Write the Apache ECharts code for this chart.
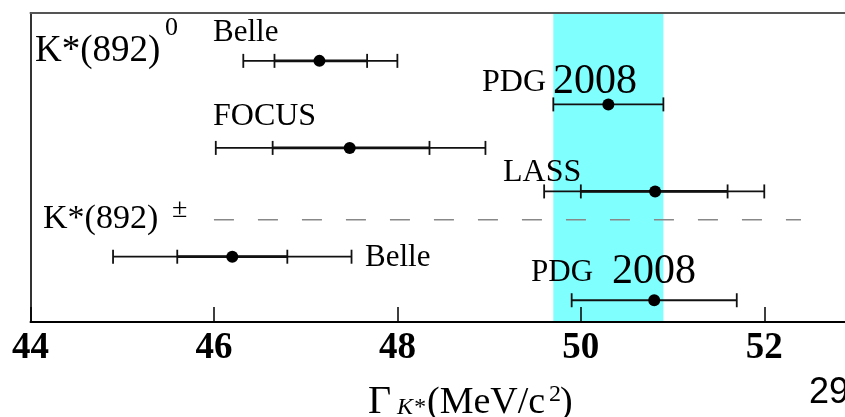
<!DOCTYPE html>
<html>
<head>
<meta charset="utf-8">
<script src="https://cdn.jsdelivr.net/npm/echarts@6/dist/echarts.min.js"></script>
<style>
html,body{margin:0;padding:0;background:#fff;overflow:hidden;}
#c{width:870px;height:417px;}
</style>
</head>
<body>
<div id="c"></div>
<script>
// ---- data ----
const experiments = ['Belle K*0', 'PDG 2008 K*0', 'FOCUS', 'LASS', 'Belle K*±', 'PDG 2008 K*±'];
const rowPos    = [6, 5, 4, 3, 1.5, 0.5];
const central   = [47.15, 50.3, 47.48, 50.81, 46.2, 50.8];
const statLow   = [46.66, null, 46.64, 50.0, 45.6, null];
const statHigh  = [47.67, null, 48.35, 51.6, 46.8, null];
const totLow    = [46.32, 49.7, 46.02, 49.6, 44.9, 49.9];
const totHigh   = [48.0, 50.9, 48.96, 52.0, 47.5, 51.7];
const pdgBand   = [49.7, 50.9];
const separatorX = [46.0, 52.4];
const separatorY = 2.35;
const xMin = 44, xMax = 53, xInterval = 2;
const yMin = 0, yMax = 7.1;

// ---- chart ----
const chart = echarts.init(document.getElementById('c'), null, {renderer: 'canvas'});
const rows = experiments.map((n, i) => [central[i], rowPos[i], statLow[i], statHigh[i], totLow[i], totHigh[i], n]);

const SERIF = '"Liberation Serif", "Times New Roman", serif';
function txt(text, left, baseline, size, extra) {
  return Object.assign({
    type: 'text', x: left, y: baseline - 0.32 * size, z: 100,
    style: {text: text, fontFamily: SERIF, fontSize: size, fill: '#000', verticalAlign: 'middle', align: 'left'}
  }, extra || {});
}

const option = {
  animation: false,
  grid: {left: 30.5, right: 14, top: 13, bottom: 95, containLabel: false},
  xAxis: [{
    type: 'value', min: xMin, max: xMax, interval: xInterval, position: 'bottom', z: 10,
    axisLine: {show: true, onZero: false, lineStyle: {color: '#000', width: 2}},
    axisTick: {show: true, inside: true, length: 15, lineStyle: {color: '#000', width: 1.5}},
    axisLabel: {show: true, margin: 8, fontFamily: SERIF, fontWeight: 'bold', fontSize: 37, color: '#000', showMaxLabel: false},
    splitLine: {show: false}
  }, {
    type: 'value', min: xMin, max: xMax, position: 'top', z: 10,
    axisLine: {show: true, onZero: false, lineStyle: {color: '#555', width: 2}},
    axisTick: {show: false}, axisLabel: {show: false}, splitLine: {show: false}
  }],
  yAxis: {
    type: 'value', min: yMin, max: yMax, z: 10,
    axisLine: {show: true, onZero: false, lineStyle: {color: '#333', width: 2}},
    axisTick: {show: false}, axisLabel: {show: false}, splitLine: {show: false}
  },
  series: [{
    type: 'line', z: 1, silent: true, symbol: 'none',
    data: [[separatorX[0], separatorY], [separatorX[1], separatorY]],
    lineStyle: {color: '#888', width: 1.5, type: [20, 24]},
    markArea: {silent: true, itemStyle: {color: '#80ffff', opacity: 1}, data: [[{xAxis: pdgBand[0]}, {xAxis: pdgBand[1]}]]}
  }, {
    type: 'custom', z: 3, silent: true,
    data: rows,
    renderItem: function (params, api) {
      const y = api.coord([central[params.dataIndex], api.value(1)])[1];
      const px = v => api.coord([v, api.value(1)])[0];
      const c = px(api.value(0));
      const tl = px(api.value(4)), th = px(api.value(5));
      const col = '#111';
      const ch = [];
      ch.push({type: 'line', shape: {x1: tl, y1: y, x2: th, y2: y}, style: {stroke: col, lineWidth: 1.8}});
      ch.push({type: 'line', shape: {x1: tl, y1: y - 7, x2: tl, y2: y + 7}, style: {stroke: col, lineWidth: 1.8}});
      ch.push({type: 'line', shape: {x1: th, y1: y - 7, x2: th, y2: y + 7}, style: {stroke: col, lineWidth: 1.8}});
      const sl = api.value(2), sh = api.value(3);
      if (sl != null && !isNaN(sl)) {
        const a = px(sl), b = px(sh);
        ch.push({type: 'line', shape: {x1: a, y1: y, x2: b, y2: y}, style: {stroke: col, lineWidth: 2.8}});
        ch.push({type: 'line', shape: {x1: a, y1: y - 7, x2: a, y2: y + 7}, style: {stroke: col, lineWidth: 1.8}});
        ch.push({type: 'line', shape: {x1: b, y1: y - 7, x2: b, y2: y + 7}, style: {stroke: col, lineWidth: 1.8}});
      }
      ch.push({type: 'circle', shape: {cx: c, cy: y, r: 6}, style: {fill: '#000'}});
      return {type: 'group', children: ch};
    }
  }],
  graphic: [
    txt('K*(892)', 35, 63, 37),
    txt('0', 165, 36, 26),
    txt('Belle', 213, 43, 31),
    txt('PDG', 482, 93, 32),
    txt('2008', 553, 95, 42),
    txt('FOCUS', 213, 127, 32),
    txt('LASS', 503, 183, 32),
    txt('K*(892)', 43, 230, 34),
    txt('±', 172, 219, 28),
    txt('Belle', 365, 268, 31),
    txt('PDG', 531, 283, 31),
    txt('2008', 612, 285, 42),
    // axis title
    txt('Γ', 368, 415, 40),
    {type: 'text', x: 397, y: 415 - 0.32 * 24, z: 100, style: {text: 'K*', fontFamily: SERIF, fontStyle: 'italic', fontSize: 24, fill: '#000', verticalAlign: 'middle'}},
    txt('(MeV/c', 427, 415, 38),
    txt('2', 549, 402, 24),
    txt(')', 560, 415, 38),
    // page number
    {type: 'text', x: 809, y: 406 - 0.36 * 36, z: 100, style: {text: '29', fontFamily: '"Liberation Sans", Arial, sans-serif', fontSize: 36, fill: '#000', verticalAlign: 'middle'}}
  ]
};
chart.setOption(option);
</script>
</body>
</html>
